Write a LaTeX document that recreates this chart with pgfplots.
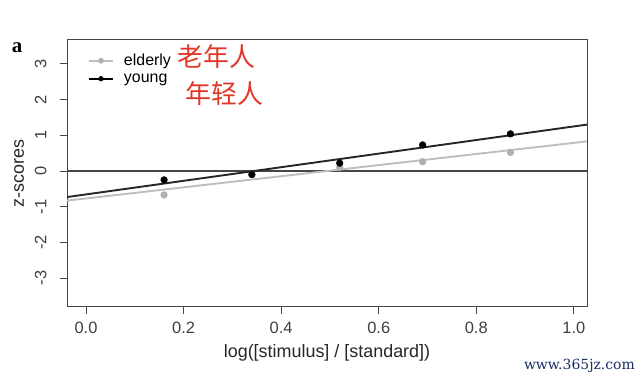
\documentclass[border=0pt]{standalone}
\usepackage{pgfplots}
\pgfplotsset{compat=1.18}
\usepackage{fontspec}
\setmainfont{Liberation Sans}
\newfontfamily\cjk{Noto Sans CJK SC}
\newfontfamily\wmfont{DejaVu Serif}
\newfontfamily\serifa{Liberation Serif}
\definecolor{axgray}{RGB}{70,70,70}
\definecolor{eldgray}{RGB}{175,175,175}
\definecolor{eldline}{RGB}{190,190,190}
\definecolor{cnred}{RGB}{225,55,40}
\definecolor{wmblue}{RGB}{25,45,100}
\begin{document}
\begin{tikzpicture}
\useasboundingbox (-67bp,-74bp) rectangle (573bp,307bp);
\begin{axis}[
  at={(0,0)}, anchor=south west,
  scale only axis, width=520bp, height=267bp,
  xmin=-0.039, xmax=1.027, ymin=-3.81, ymax=3.67,
  xtick={0,0.2,0.4,0.6,0.8,1.0},
  xticklabels={0.0,0.2,0.4,0.6,0.8,1.0},
  ytick={-3,-2,-1,0,1,2,3},
  yticklabels={-3,-2,-1,0,1,2,3},
  tick align=outside, xtick pos=bottom, ytick pos=left,
  major tick length=7bp,
  every tick/.style={axgray, line width=0.9pt},
  axis line style={axgray, line width=1pt},
  /pgf/number format/assume math mode=true,
  tick label style={font=\fontsize{16.5}{16.5}\selectfont, text=black!75},
  xticklabel style={yshift=-5bp},
  yticklabel style={rotate=90, anchor=south, yshift=10bp},
  xlabel={log([stimulus] / [standard])},
  ylabel={z-scores},
  label style={font=\fontsize{18}{18}\selectfont, text=black!85},
  xlabel style={yshift=-4bp},
  ylabel style={yshift=4bp},
  legend style={at={(0.04,0.955)}, anchor=north west, draw=none, fill=none,
    font=\fontsize{16}{16}\selectfont, row sep=2.5bp, column sep=8bp, inner sep=0pt,
    legend cell align=left},
  legend image code/.code={\draw[#1, mark repeat=2, mark phase=2] plot coordinates {(0bp,0bp)(12bp,0bp)(24bp,0bp)};},
  clip=true,
]
\addplot[eldline, line width=2pt, mark=*, mark size=2.6pt, mark options={fill=eldgray, draw=eldgray, line width=0.5pt}]
  coordinates {(-1,-10)(-0.9,-10)};
\addlegendentry{elderly}
\addplot[black, line width=2pt, mark=*, mark size=2.4pt, mark options={fill=black, line width=0.5pt}]
  coordinates {(-1,-10)(-0.9,-10)};
\addlegendentry{young}
% zero reference line
\addplot[axgray, line width=1.1pt, forget plot] coordinates {(-0.039,0)(1.027,0)};
% fitted lines
\addplot[eldline, line width=1.9pt, forget plot] coordinates {(-0.039,-0.83)(1.027,0.83)};
\addplot[black!85, line width=1.9pt, forget plot] coordinates {(-0.039,-0.73)(1.027,1.30)};
% data points
\addplot[only marks, mark=*, mark size=3.4pt, eldgray, forget plot]
  coordinates {(0.16,-0.67)(0.34,-0.10)(0.52,0.10)(0.69,0.26)(0.87,0.52)};
\addplot[only marks, mark=*, mark size=3.4pt, black, forget plot]
  coordinates {(0.16,-0.25)(0.34,-0.10)(0.52,0.22)(0.69,0.73)(0.87,1.04)};
\node[cnred, anchor=west, inner sep=0pt, font=\cjk\fontsize{26}{26}\selectfont] at (rel axis cs:0.213,0.936) {老年人};
\node[cnred, anchor=west, inner sep=0pt, font=\cjk\fontsize{26}{26}\selectfont] at (rel axis cs:0.227,0.80) {年轻人};
\end{axis}
\node[anchor=base, font=\serifa\bfseries\fontsize{21}{21}\selectfont] at (-50bp,254bp) {a};
\node[anchor=base east, inner sep=0pt, wmblue, font=\wmfont\fontsize{14}{14}\selectfont] at (568bp,-62bp) {www.365jz.com};
\end{tikzpicture}
\end{document}
